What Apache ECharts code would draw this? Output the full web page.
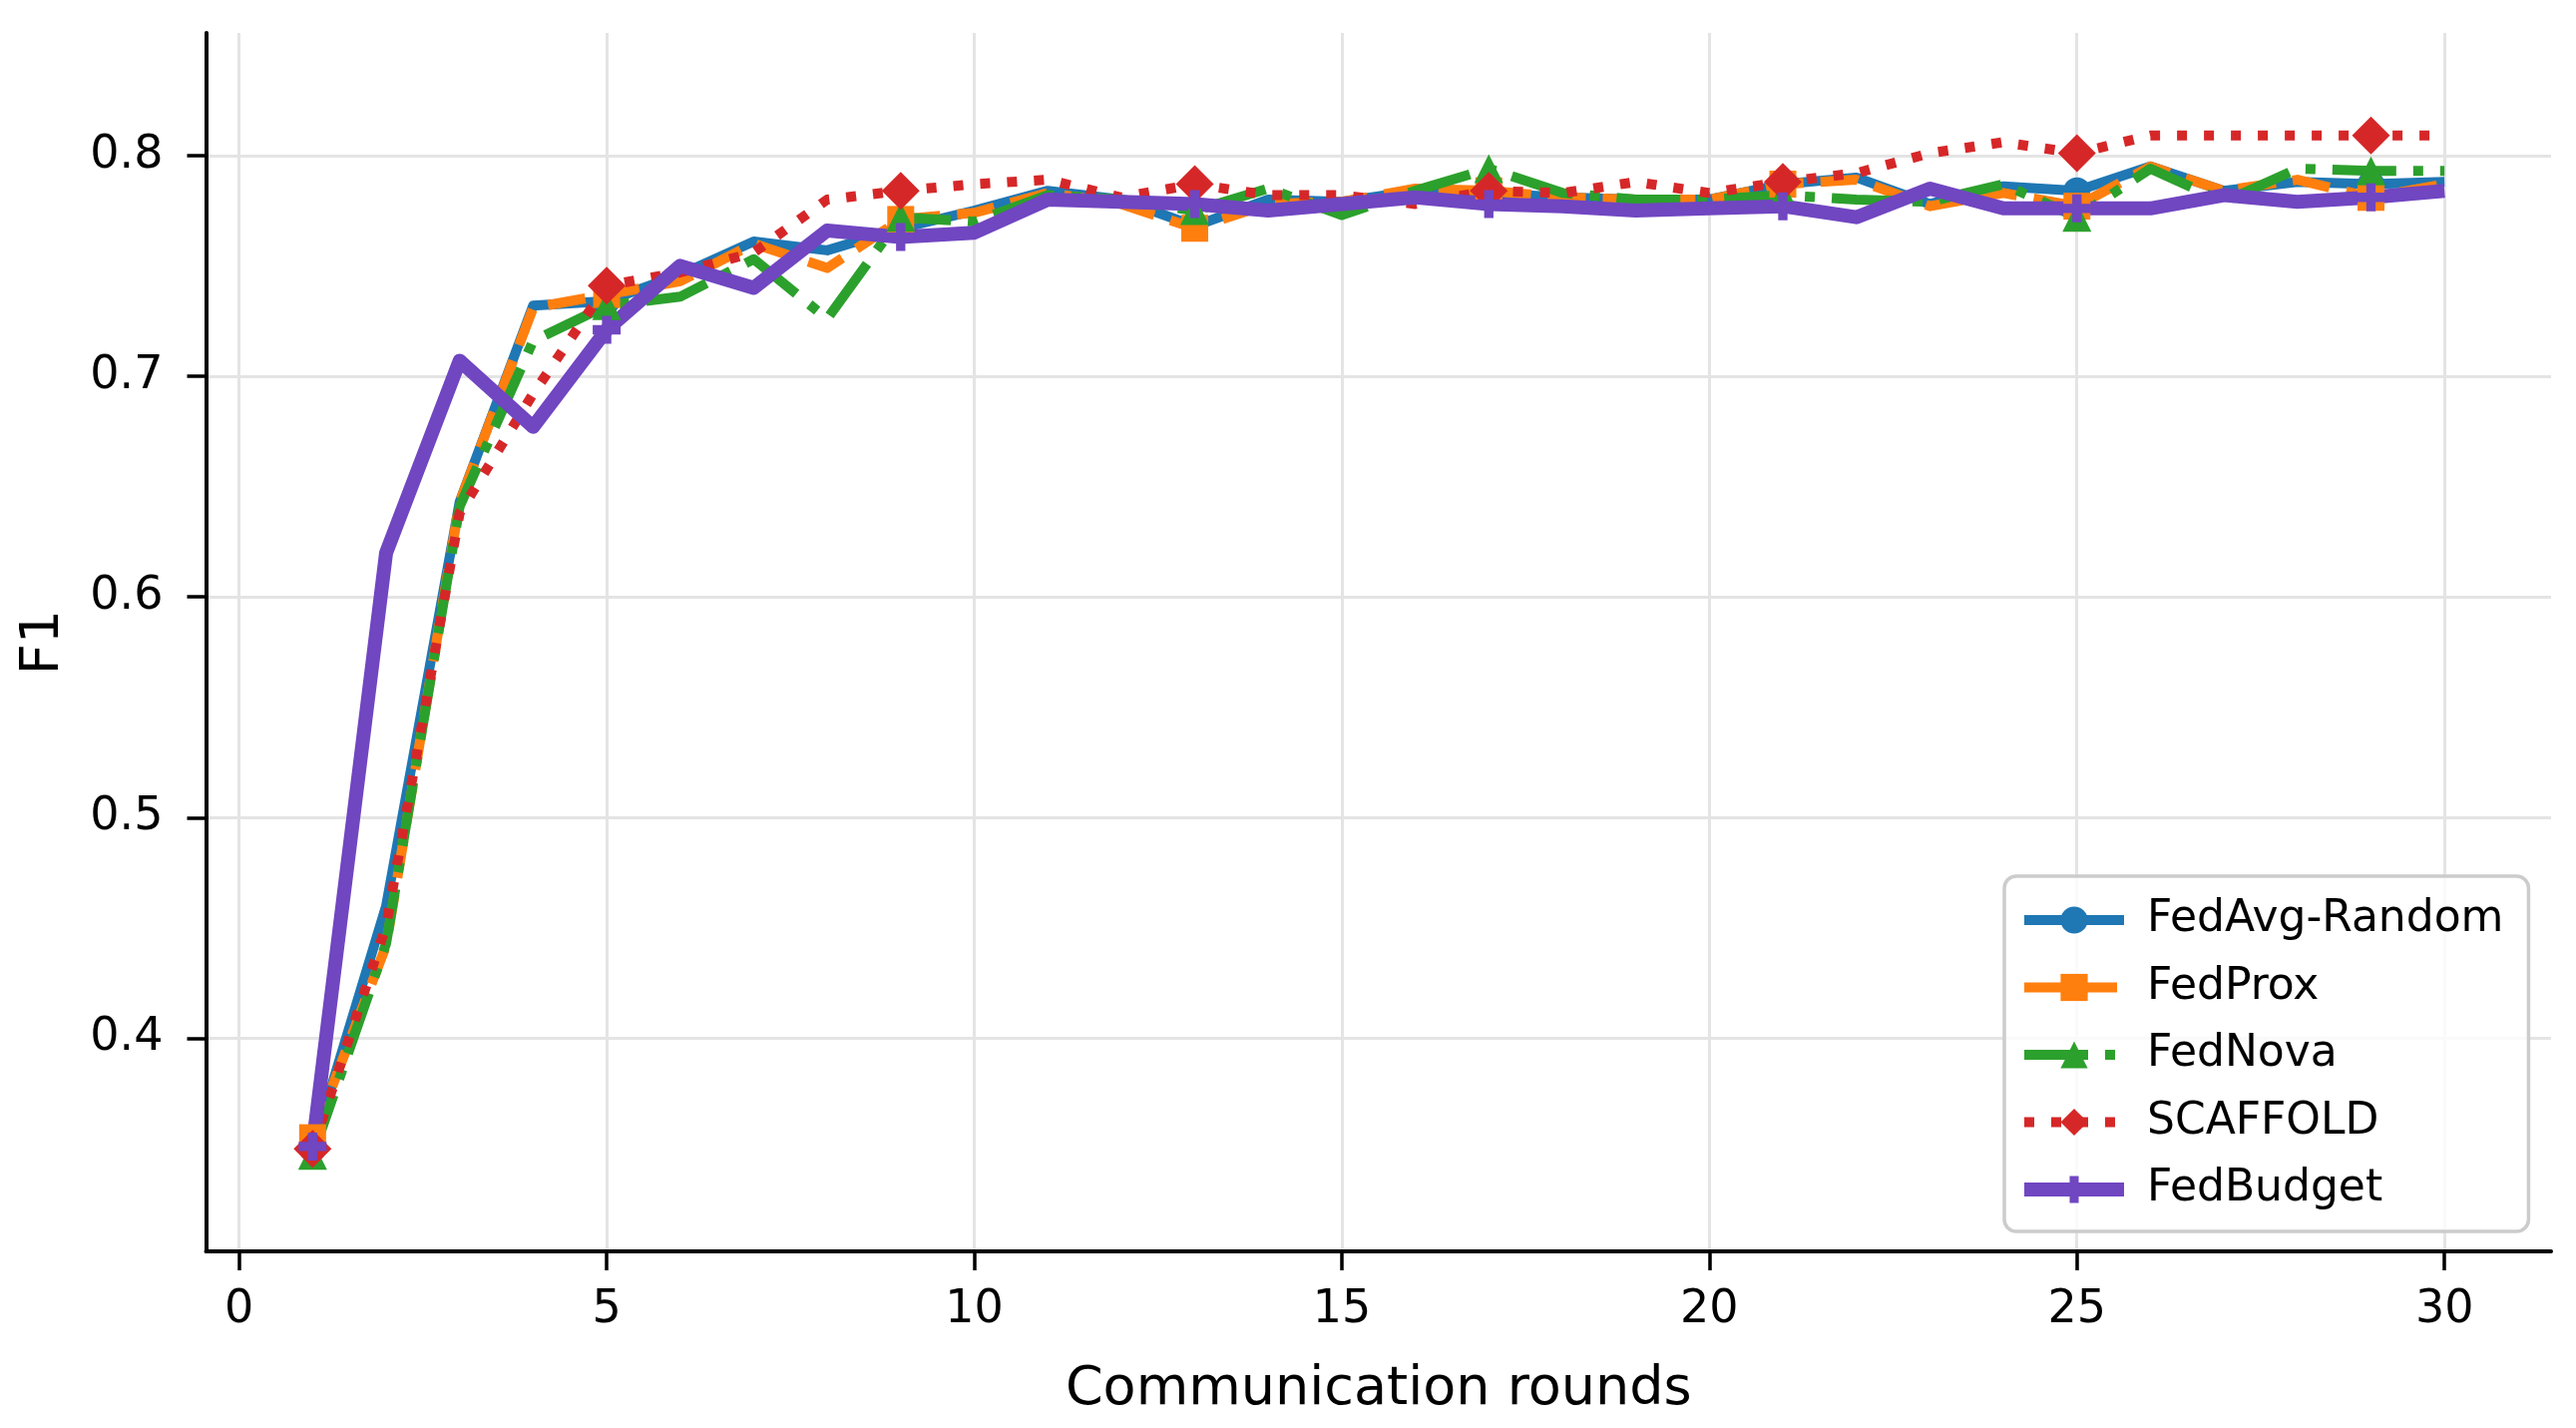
<!DOCTYPE html>
<html>
<head>
<meta charset="utf-8">
<title>F1 vs communication rounds</title>
<script src="https://cdn.jsdelivr.net/npm/echarts@6/dist/echarts.min.js"></script>
<style>
  html, body { margin: 0; padding: 0; background: #ffffff; }
  #chart { width: 2582px; height: 1431px; }
</style>
</head>
<body>
<div id="chart"></div>
<script>
// values
const rounds = [1, 2, 3, 4, 5, 6, 7, 8, 9, 10, 11, 12, 13, 14, 15,
  16, 17, 18, 19, 20, 21, 22, 23, 24, 25, 26, 27, 28, 29, 30];

const fedAvgRandom = [0.350, 0.460, 0.643, 0.732, 0.734, 0.746, 0.761, 0.757, 0.767, 0.775,
  0.784, 0.780, 0.768, 0.780, 0.779, 0.784, 0.783, 0.781, 0.780, 0.780,
  0.787, 0.790, 0.778, 0.786, 0.784, 0.795, 0.784, 0.788, 0.787, 0.788];

const fedProx = [0.355, 0.442, 0.643, 0.731, 0.737, 0.743, 0.760, 0.749, 0.771, 0.774,
  0.783, 0.778, 0.767, 0.778, 0.779, 0.785, 0.784, 0.781, 0.780, 0.780,
  0.787, 0.789, 0.777, 0.783, 0.777, 0.795, 0.784, 0.789, 0.781, 0.787];

const fedNova = [0.347, 0.443, 0.641, 0.716, 0.732, 0.736, 0.753, 0.726, 0.772, 0.770,
  0.782, 0.780, 0.775, 0.785, 0.773, 0.784, 0.794, 0.783, 0.780, 0.780,
  0.782, 0.780, 0.779, 0.787, 0.772, 0.794, 0.779, 0.794, 0.793, 0.793];

const scaffold = [0.350, 0.451, 0.638, 0.692, 0.741, 0.747, 0.756, 0.780, 0.784, 0.787,
  0.789, 0.781, 0.787, 0.782, 0.782, 0.778, 0.784, 0.783, 0.788, 0.783,
  0.788, 0.792, 0.801, 0.806, 0.801, 0.809, 0.809, 0.809, 0.809, 0.809];

const fedBudget = [0.351, 0.620, 0.707, 0.677, 0.721, 0.750, 0.740, 0.766, 0.763, 0.765,
  0.780, 0.779, 0.778, 0.775, 0.778, 0.781, 0.778, 0.777, 0.775, 0.776,
  0.777, 0.772, 0.785, 0.776, 0.776, 0.776, 0.782, 0.779, 0.781, 0.784];

const xTicks = [0, 5, 10, 15, 20, 25, 30];
const yTicks = [0.4, 0.5, 0.6, 0.7, 0.8];

const FONT = 'DejaVu Sans';
const PLUS = 'path://M2,0H4V2H6V4H4V6H2V4H0V2H2Z';

// markers only on every 4th round (1, 5, 9, ...)
function markEvery(size) {
  return function (value, params) {
    return params.dataIndex % 4 === 0 ? size : 0;
  };
}

function lineSeries(name, values, color, width, dash, symbol, size) {
  return {
    name: name,
    type: 'line',
    data: rounds.map((r, i) => [r, values[i]]),
    symbol: symbol,
    symbolSize: markEvery(size),
    showSymbol: true,
    lineStyle: { color: color, width: width, type: dash, join: 'round', cap: 'butt' },
    itemStyle: { color: color },
    emphasis: { disabled: true },
    clip: false
  };
}

const chart = echarts.init(document.getElementById('chart'));

chart.setOption({
  animation: false,
  backgroundColor: '#ffffff',
  textStyle: { fontFamily: FONT },
  grid: { left: 206.5, right: 25, top: 33, bottom: 177 },
  xAxis: {
    type: 'value',
    min: -0.45,
    max: 31.45,
    name: 'Communication rounds',
    nameLocation: 'middle',
    nameGap: 112,
    nameTextStyle: { fontFamily: FONT, fontSize: 54, color: '#000' },
    axisLine: { show: true, onZero: false, lineStyle: { color: '#000', width: 4 } },
    axisTick: { show: true, length: 19, customValues: xTicks, lineStyle: { color: '#000', width: 3.5 } },
    axisLabel: { customValues: xTicks, margin: 36, fontFamily: FONT, fontSize: 46, color: '#000' },
    splitLine: { show: true, lineStyle: { color: '#e4e4e4', width: 3 } }
  },
  yAxis: {
    type: 'value',
    min: 0.3035,
    max: 0.8555,
    name: 'F1',
    nameLocation: 'middle',
    nameRotate: 90,
    nameGap: 136,
    nameTextStyle: { fontFamily: FONT, fontSize: 54, color: '#000' },
    axisLine: { show: true, onZero: false, lineStyle: { color: '#000', width: 4 } },
    axisTick: { show: true, length: 19, customValues: yTicks, lineStyle: { color: '#000', width: 3.5 } },
    axisLabel: {
      customValues: yTicks,
      margin: 43,
      fontFamily: FONT,
      fontSize: 46,
      color: '#000',
      formatter: v => v.toFixed(1)
    },
    splitLine: { show: true, lineStyle: { color: '#e4e4e4', width: 3 } }
  },
  legend: {
    orient: 'vertical',
    left: 2009,
    top: 878,
    itemWidth: 100,
    itemHeight: 34,
    itemGap: 23.5,
    padding: [22, 25, 20, 13],
    backgroundColor: 'rgba(255,255,255,0.8)',
    borderColor: '#cccccc',
    borderWidth: 3.5,
    borderRadius: 12,
    selectedMode: false,
    textStyle: { fontFamily: FONT, fontSize: 44, color: '#000', padding: [0, 0, 0, 18] },
    data: [
      { name: 'FedAvg-Random', lineStyle: { width: 10 } },
      { name: 'FedProx', lineStyle: { width: 10 } },
      { name: 'FedNova', lineStyle: { width: 10 } },
      { name: 'SCAFFOLD', lineStyle: { width: 10 } },
      { name: 'FedBudget', lineStyle: { width: 14 } }
    ]
  },
  series: [
    lineSeries('FedAvg-Random', fedAvgRandom, '#1f77b4', 10, 'solid', 'circle', 27),
    lineSeries('FedProx', fedProx, '#ff7f0e', 10, [38, 17], 'rect', 27),
    lineSeries('FedNova', fedNova, '#2ca02c', 10, [64, 17, 10, 17], 'triangle', 29),
    lineSeries('SCAFFOLD', scaffold, '#d62728', 10, [10, 17], 'diamond', 38),
    lineSeries('FedBudget', fedBudget, '#7046c1', 14, 'solid', PLUS, 28)
  ]
});

window.addEventListener('resize', function () {
  chart.resize();
});
</script>
</body>
</html>
